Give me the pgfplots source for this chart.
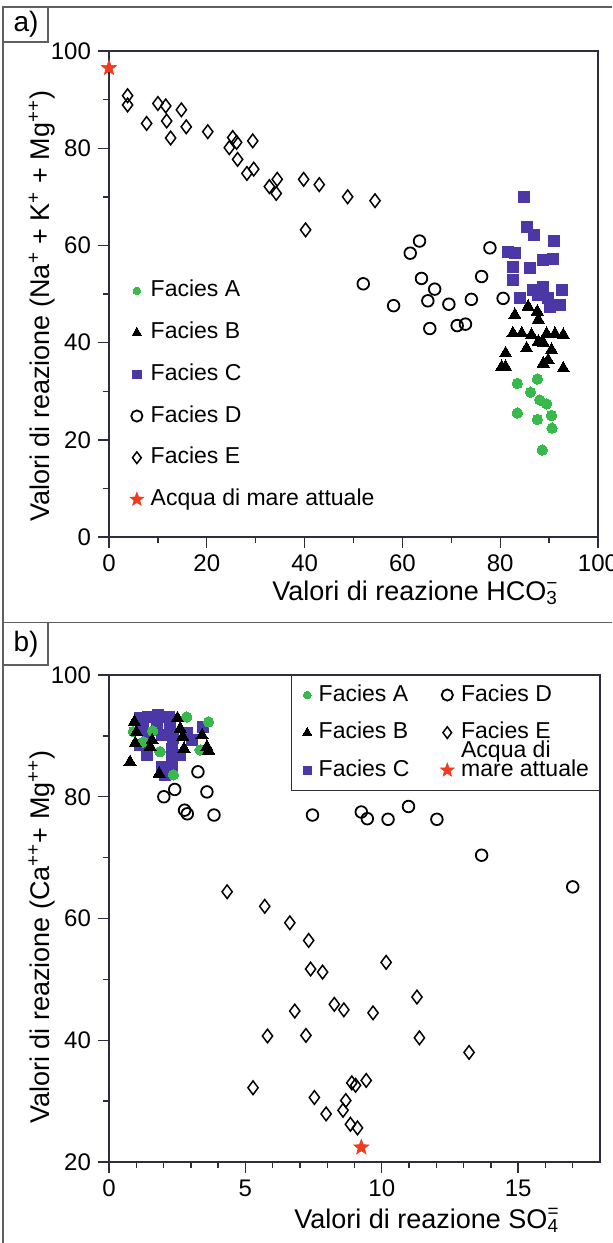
\documentclass[border=0pt]{standalone}
\usepackage{fontspec}
\setmainfont{Liberation Sans}
\usepackage{pgfplots}
\pgfplotsset{compat=1.18}

\definecolor{facA}{RGB}{55,185,75}
\definecolor{facC}{RGB}{75,55,165}
\definecolor{starc}{RGB}{240,60,30}
\definecolor{axcol}{RGB}{45,45,60}
\definecolor{framec}{RGB}{95,95,95}

\pgfdeclareplotmark{fstar}{%
  \pgfpathmoveto{\pgfqpointpolar{90}{\pgfplotmarksize}}%
  \pgfpathlineto{\pgfqpointpolar{126}{0.42\pgfplotmarksize}}%
  \pgfpathlineto{\pgfqpointpolar{162}{\pgfplotmarksize}}%
  \pgfpathlineto{\pgfqpointpolar{198}{0.42\pgfplotmarksize}}%
  \pgfpathlineto{\pgfqpointpolar{234}{\pgfplotmarksize}}%
  \pgfpathlineto{\pgfqpointpolar{270}{0.42\pgfplotmarksize}}%
  \pgfpathlineto{\pgfqpointpolar{306}{\pgfplotmarksize}}%
  \pgfpathlineto{\pgfqpointpolar{342}{0.42\pgfplotmarksize}}%
  \pgfpathlineto{\pgfqpointpolar{18}{\pgfplotmarksize}}%
  \pgfpathlineto{\pgfqpointpolar{54}{0.42\pgfplotmarksize}}%
  \pgfpathclose
  \pgfusepathqfillstroke
}

\newcommand{\supsub}[2]{\rlap{\textsuperscript{#1}}\textsubscript{#2}}

\pgfplotsset{
  base/.style={
    scale only axis,
    clip=false,
    axis line style={axcol, line width=0.8pt},
    tick style={axcol, line width=0.7pt},
    tick align=outside,
    tick pos=left,
    major tick length=5.5pt,
    minor tick length=3pt,
    tick label style={font=\fontsize{12}{14}\selectfont},
    /pgf/number format/assume math mode=true,
    label style={font=\fontsize{13.5}{16}\selectfont},
    legend cell align=left,
    legend image code/.code={\draw[##1] plot coordinates {(0pt,0pt)};},
  },
  fA/.style={only marks, mark=*, mark size=2.6pt, mark options={fill=facA, draw=facA, line width=0pt}},
  fB/.style={only marks, mark=triangle*, mark size=3.5pt, mark options={fill=black, draw=black, line width=0pt}},
  fC/.style={only marks, mark=square*, mark size=2.8pt, mark options={fill=facC, draw=facC, line width=0pt}},
  fD/.style={only marks, mark=o, mark size=2.9pt, mark options={draw=black, line width=0.9pt}},
  fE/.style={only marks, mark=diamond, mark size=3.4pt, mark options={draw=black, line width=0.75pt}},
  fS/.style={only marks, mark=fstar, mark size=4pt, mark options={fill=starc, draw=starc, line width=0.3pt}},
}

\begin{document}
\begin{tikzpicture}
\path[use as bounding box] (0pt,0pt) rectangle (306pt,-621.5pt);

% frame
\draw[framec, line width=0.75pt] (1.5pt,-3.5pt) -- (306pt,-3.5pt);
\draw[framec, line width=0.75pt] (1.5pt,-3.5pt) -- (1.5pt,-621.5pt);
\draw[framec, line width=0.75pt] (1.5pt,-311.35pt) -- (306pt,-311.35pt);
\draw[framec, line width=0.75pt] (1.5pt,-3.5pt) rectangle (24pt,-21pt);
\draw[framec, line width=0.75pt] (1.5pt,-311.35pt) rectangle (24pt,-332.5pt);
\node[font=\fontsize{14}{16}\selectfont] at (13pt,-12.3pt) {a)};
\node[font=\fontsize{14}{16}\selectfont] at (13pt,-322pt) {b)};

% ---------------- panel a ----------------
\begin{axis}[base,
  at={(54.5pt,-268.5pt)}, anchor=south west,
  width=244.5pt, height=243pt,
  xmin=0, xmax=100, ymin=0, ymax=100,
  xtick={0,20,...,100}, minor xtick={10,30,50,70,90},
  ytick={0,20,...,100}, minor ytick={10,30,50,70,90},
  xlabel={Valori di reazione HCO\supsub{−}{3}},
  ylabel={Valori di reazione (Na\textsuperscript{+} + K\textsuperscript{+} + Mg\textsuperscript{++})},
  xlabel style={at={(axis description cs:0.9325,-0.130)}, anchor=base east},
  ylabel style={at={(axis description cs:-0.1207,0.475)}, anchor=base, rotate=0},
  legend style={at={(0.043,0.529)}, anchor=north west, draw=none, fill=none,
    inner sep=0pt, outer sep=0pt, row sep=9.85pt,
    font=\fontsize{11.5}{13}\selectfont,
    nodes={inner sep=0pt, text height=8.5pt, text depth=2.5pt},
    /tikz/every odd column/.style={column sep=3.5pt}},
]
\addplot[fA, forget plot] coordinates {(83.5,31.6)(87.6,32.5)(86.2,29.8)(88.1,28.2)(89.5,27.4)(90.5,25.0)(83.5,25.5)(87.6,24.2)(90.6,22.4)(88.6,17.9)};
\addplot[fB, forget plot] coordinates {(85.7,47.4)(83.0,45.7)(87.6,46.4)(87.8,44.7)(82.6,41.9)(84.4,41.9)(86.4,41.6)(89.5,41.8)(91.2,41.8)(92.9,41.6)(87.8,40.2)(88.8,40.0)(85.4,38.8)(90.5,38.5)(81.1,37.8)(80.3,35.0)(81.1,35.0)(88.8,35.7)(89.8,36.4)(92.9,34.7)};
\addplot[fC, forget plot] coordinates {(84.8,70.0)(85.4,63.8)(86.9,62.1)(91.0,60.9)(81.6,58.7)(83.0,58.4)(82.6,55.6)(86.1,55.3)(88.8,57.0)(90.8,57.2)(82.6,52.9)(86.7,50.8)(88.8,51.5)(92.6,50.8)(84.0,49.1)(87.8,49.8)(89.8,49.1)(92.2,47.7)(90.2,47.4)};
\addplot[fD, forget plot] coordinates {(52.0,52.1)(63.5,60.9)(61.6,58.4)(77.9,59.5)(63.9,53.2)(66.6,51.0)(76.2,53.6)(58.2,47.6)(65.2,48.6)(69.5,47.9)(74.1,48.9)(80.6,49.1)(65.6,42.9)(71.2,43.5)(72.9,43.8)};
\addplot[fE, forget plot] coordinates {(3.8,90.8)(3.8,88.9)(7.7,85.1)(10.0,89.2)(11.6,88.7)(11.8,85.6)(12.6,82.1)(14.8,87.9)(15.8,84.4)(20.2,83.4)(25.3,82.2)(26.1,81.2)(24.6,80.1)(26.3,77.7)(29.4,81.5)(28.2,74.8)(29.6,75.7)(32.8,72.1)(34.4,73.6)(34.2,70.7)(39.8,73.6)(43.0,72.5)(40.2,63.2)(48.8,70.0)(54.4,69.2)};
\addplot[fS, forget plot] coordinates {(0,96.5)};
\addlegendimage{fA, mark size=1.9pt}\addlegendentry{Facies A}
\addlegendimage{fB, mark size=2.6pt}\addlegendentry{Facies B}
\addlegendimage{fC, mark size=2.1pt}\addlegendentry{Facies C}
\addlegendimage{fD, mark size=2.8pt}\addlegendentry{Facies D}
\addlegendimage{fE, mark size=2.9pt}\addlegendentry{Facies E}
\addlegendimage{fS, mark size=3.6pt}\addlegendentry{Acqua di mare attuale}
\end{axis}

% ---------------- panel b ----------------
\begin{axis}[base,
  at={(54.5pt,-581pt)}, anchor=south west,
  width=245.5pt, height=243.5pt,
  xmin=0, xmax=18, ymin=20, ymax=100,
  xtick={0,5,10,15}, minor xtick={1,2,3,4,6,7,8,9,11,12,13,14,16,17},
  ytick={20,40,...,100}, minor ytick={30,50,70,90},
  xlabel={Valori di reazione SO\supsub{=}{4}},
  ylabel={Valori di reazione (Ca\textsuperscript{++}+ Mg\textsuperscript{++})},
  xlabel style={at={(axis description cs:0.931,-0.1355)}, anchor=base east},
  ylabel style={at={(axis description cs:-0.1207,0.462)}, anchor=base, rotate=0},
  legend columns=2,
  legend style={at={(1,1)}, anchor=north east, draw=axcol, line width=0.7pt, fill=white,
    inner xsep=5.5pt, inner ysep=4.5pt, outer sep=0pt, row sep=7.8pt,
    font=\fontsize{11.5}{13}\selectfont,
    nodes={inner sep=0pt, text height=8.5pt, text depth=2.5pt},
    /tikz/every odd column/.style={column sep=3.5pt},
    /tikz/every even column/.style={column sep=15.5pt}},
]
\addplot[fC, forget plot] coordinates {(1.14,92.9)(1.44,93.1)(1.81,93.4)(2.18,93.1)(1.26,91.2)(1.75,91.5)(2.24,91.5)(1.44,89.9)(1.93,90.1)(2.36,89.6)(2.85,90.4)(3.04,89.3)(3.46,91.5)(1.14,88.5)(1.38,86.8)(2.30,87.9)(2.30,86.3)(1.93,84.9)(2.30,84.9)(2.06,83.6)(2.61,86.8)};
\addplot[fA, forget plot] coordinates {(2.85,93.1)(3.65,92.3)(0.89,90.7)(1.26,89.0)(1.87,87.4)(3.34,87.7)(2.36,83.6)(1.6,90.8)};
\addplot[fB, forget plot] coordinates {(0.93,92.3)(0.96,88.8)(0.77,85.7)(1.58,89.3)(1.51,88.2)(2.51,92.9)(2.61,91.2)(2.70,89.9)(2.75,87.9)(3.41,90.1)(3.59,88.2)(3.65,87.6)(1.84,83.8)(1.0,90.6)};
\addplot[fD, forget plot] coordinates {(3.26,84.1)(2.41,81.2)(2.01,80.0)(3.59,80.8)(2.77,77.8)(2.87,77.2)(3.85,77.0)(7.46,77.0)(9.25,77.5)(9.47,76.4)(10.23,76.3)(10.98,78.4)(12.02,76.3)(13.66,70.4)(17.0,65.2)};
\addplot[fE, forget plot] coordinates {(4.33,64.4)(5.71,62.0)(6.63,59.3)(7.32,56.4)(7.39,51.7)(7.83,51.2)(10.16,52.8)(11.29,47.1)(8.26,45.9)(8.61,45.0)(6.81,44.8)(9.68,44.5)(5.81,40.7)(7.22,40.8)(11.38,40.4)(13.2,38.0)(5.28,32.2)(8.9,33.0)(9.04,32.6)(9.43,33.4)(7.53,30.6)(8.68,30.1)(8.58,28.5)(7.96,27.9)(8.85,26.2)(9.11,25.6)};
\addplot[fS, forget plot] coordinates {(9.25,22.4)};
\addlegendimage{fA, mark size=1.9pt}\addlegendentry{Facies A}
\addlegendimage{fD, mark size=2.8pt}\addlegendentry{Facies D}
\addlegendimage{fB, mark size=2.6pt}\addlegendentry{Facies B}
\addlegendimage{fE, mark size=2.9pt}\addlegendentry{Facies E}
\addlegendimage{fC, mark size=2.1pt}\addlegendentry{Facies C}
\addlegendimage{fS, mark size=3.6pt}\addlegendentry[align=left]{Acqua di\\[-3.5pt]mare attuale}
\end{axis}
\end{tikzpicture}
\end{document}
